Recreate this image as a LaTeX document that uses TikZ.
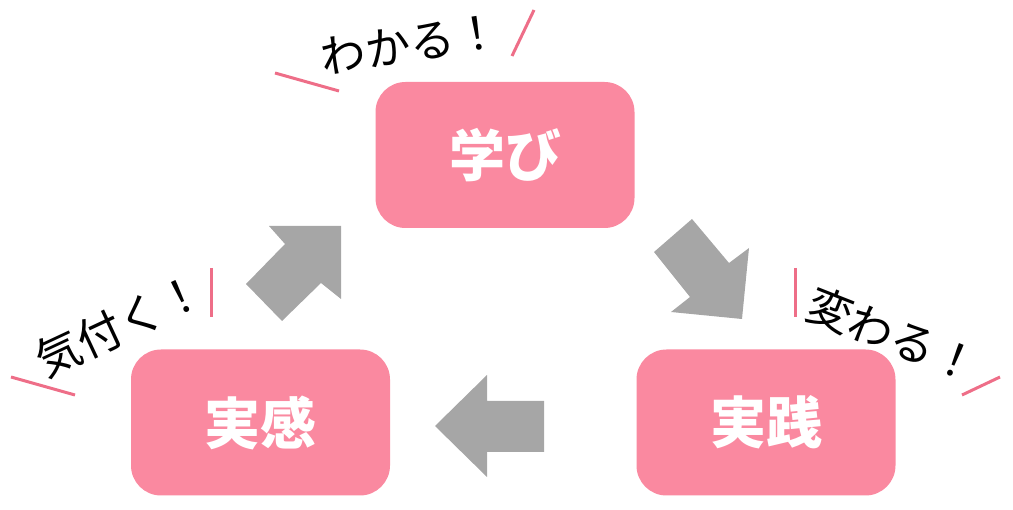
\documentclass[tikz,border=0pt]{standalone}
\usepackage{fontspec}
\newfontfamily\cjk{Noto Sans CJK JP}
\definecolor{boxpink}{RGB}{250,137,160}
\definecolor{tickpink}{RGB}{238,110,136}
\definecolor{arrowgray}{RGB}{166,166,166}
\begin{document}
\begin{tikzpicture}[x=1pt,y=-1pt,
  stage/.style={fill=boxpink, rounded corners=30pt, minimum width=259pt, minimum height=146pt,
    inner sep=0pt, text=white, font=\cjk\bfseries\fontsize{56}{56}\selectfont},
  cheer/.style={inner sep=0pt, text=black, font=\cjk\fontsize{45}{45}\selectfont},
  tick/.style={draw=tickpink, line width=3pt},
  blockarrow/.style={fill=arrowgray}]
\useasboundingbox (0,0) rectangle (1013,510);
% boxes
\node[stage] (learn) at (505,155) {学び};
\node[stage] (feel) at (260.5,422.5) {実感};
\node[stage] (practice) at (766,422.5) {実践};
% block arrows
\fill[blockarrow] (341,226) -- (269,226) -- (285,244) -- (246,284) -- (282,321) -- (321,283) -- (341,299) -- cycle;
\fill[blockarrow] (692,219) -- (729,263) -- (749,248) -- (742,319) -- (671,312) -- (690,297) -- (654,252) -- cycle;
\fill[blockarrow] (435,426) -- (487,375) -- (487,401) -- (544,401) -- (544,452) -- (487,452) -- (487,477) -- cycle;
% labels
\node[cheer, rotate=9] (wakaru) at (410,44) {わかる！};
\node[cheer, rotate=25] (kizuku) at (120,325) {気付く！};
\node[cheer, rotate=-21.5] (kawaru) at (893,335) {変わる！};
% ticks
\coordinate (t1a) at (275,73); \coordinate (t1b) at (339,91);
\coordinate (t2a) at (534,10); \coordinate (t2b) at (512,56);
\coordinate (t3a) at (11,377); \coordinate (t3b) at (75,395);
\coordinate (t4a) at (211,268); \coordinate (t4b) at (211,317);
\coordinate (t5a) at (795,268); \coordinate (t5b) at (795,317);
\coordinate (t6a) at (962,395); \coordinate (t6b) at (1000,377);
\draw[tick] (t1a) -- (t1b);
\draw[tick] (t2a) -- (t2b);
\draw[tick] (t3a) -- (t3b);
\draw[tick] (t4a) -- (t4b);
\draw[tick] (t5a) -- (t5b);
\draw[tick] (t6a) -- (t6b);
\end{tikzpicture}
\end{document}
